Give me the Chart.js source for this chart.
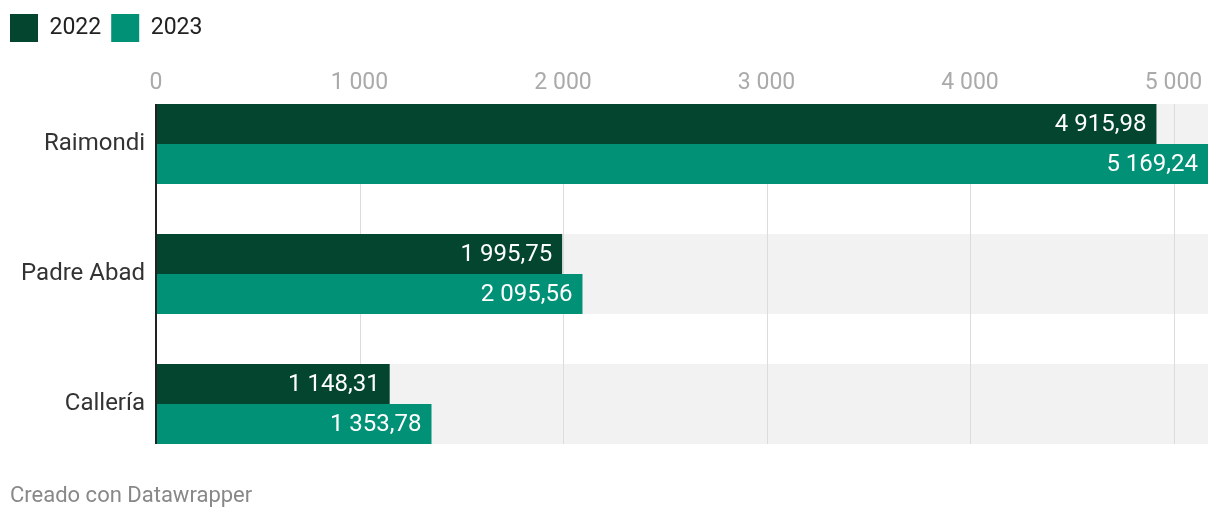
<!DOCTYPE html>
<html>
<head>
<meta charset="utf-8">
<script src="https://cdn.jsdelivr.net/npm/chart.js@4"></script>
<style>
  body { margin: 0; background: #fff; }
  #wrap { position: relative; width: 1220px; height: 522px; }
  #credit {
    position: absolute; left: 10px; top: 482px;
    font-family: Roboto, sans-serif; font-size: 22px; line-height: 26px; color: #888;
  }
</style>
</head>
<body>
<div id="wrap">
  <canvas id="myBarChart" width="1220" height="522"></canvas>
  <div id="credit">Creado con Datawrapper</div>
</div>
<script>
var categories = ['Raimondi', 'Padre Abad', 'Callería'];
var seriesNames = ['2022', '2023'];
var values2022 = [4915.98, 1995.75, 1148.31];
var values2023 = [5169.24, 2095.56, 1353.78];
var tickValues = [0, 1000, 2000, 3000, 4000, 5000];
var axisMax = 5169.24;

var DARK = '#03452f';
var TEAL = '#019176';

// "4915.98" -> "4 915,98"
function fmt(v, decimals) {
    var parts = v.toFixed(decimals).split('.');
    var intPart = parts[0].replace(/\B(?=(\d{3})+(?!\d))/g, ' ');
    return parts.length > 1 ? intPart + ',' + parts[1] : intPart;
}

function bandBounds(chart, i) {
    var top = Infinity, bottom = -Infinity;
    chart.data.datasets.forEach(function (ds, d) {
        var el = chart.getDatasetMeta(d).data[i];
        top = Math.min(top, el.y - el.height / 2);
        bottom = Math.max(bottom, el.y + el.height / 2);
    });
    return { top: top, bottom: bottom };
}

// grey rows behind each group, then the vertical grid, then bars on top
var rowsPlugin = {
    id: 'rows',
    beforeDatasetsDraw: function (chart) {
        var ctx = chart.ctx, area = chart.chartArea, x = chart.scales.x;
        var first = bandBounds(chart, 0);
        var last = bandBounds(chart, categories.length - 1);
        ctx.save();
        ctx.fillStyle = '#f2f2f2';
        for (var i = 0; i < categories.length; i++) {
            var b = bandBounds(chart, i);
            ctx.fillRect(area.left, b.top, area.right - area.left, b.bottom - b.top);
        }
        ctx.strokeStyle = '#dcdcdc';
        ctx.lineWidth = 1;
        x.ticks.forEach(function (t) {
            if (t.value === 0) return;
            var px = Math.round(x.getPixelForValue(t.value)) + 0.5;
            ctx.beginPath();
            ctx.moveTo(px, first.top);
            ctx.lineTo(px, last.bottom);
            ctx.stroke();
        });
        ctx.restore();
    },
    afterDatasetsDraw: function (chart) {
        var ctx = chart.ctx, x = chart.scales.x;
        var first = bandBounds(chart, 0);
        var last = bandBounds(chart, categories.length - 1);
        ctx.save();
        // value labels inside bar ends
        ctx.font = '24px Roboto, sans-serif';
        ctx.fillStyle = '#ffffff';
        ctx.textAlign = 'right';
        ctx.textBaseline = 'middle';
        chart.data.datasets.forEach(function (ds, d) {
            chart.getDatasetMeta(d).data.forEach(function (el, i) {
                ctx.fillText(fmt(ds.data[i], 2), el.x - 10, el.y + 1);
            });
        });
        // baseline at zero
        var x0 = x.getPixelForValue(0);
        ctx.strokeStyle = '#222';
        ctx.lineWidth = 2;
        ctx.beginPath();
        ctx.moveTo(x0, first.top);
        ctx.lineTo(x0, last.bottom);
        ctx.stroke();
        ctx.restore();
    }
};

var config = {
    type: 'bar',
    data: {
        labels: categories,
        datasets: [{
            label: seriesNames[0],
            data: values2022,
            backgroundColor: DARK,
            borderWidth: 0,
            clip: false
        }, {
            label: seriesNames[1],
            data: values2023,
            backgroundColor: TEAL,
            borderWidth: 0,
            clip: false
        }]
    },
    options: {
        indexAxis: 'y',
        responsive: false,
        animation: false,
        categoryPercentage: 80 / 130,
        barPercentage: 1,
        layout: { padding: { top: 4, left: 0, right: 12, bottom: 118 } },
        plugins: {
            legend: {
                position: 'top',
                align: 'start',
                labels: {
                    boxWidth: 28,
                    boxHeight: 28,
                    padding: 10,
                    color: '#222',
                    font: { family: 'Roboto', size: 23 }
                }
            },
            tooltip: { enabled: false }
        },
        scales: {
            x: {
                position: 'top',
                min: 0,
                max: axisMax,
                grid: { display: false, drawTicks: false },
                border: { display: false },
                ticks: {
                    padding: 47,
                    color: '#aaa',
                    font: { family: 'Roboto', size: 23 },
                    callback: function (v) { return fmt(v, 0); }
                },
                afterBuildTicks: function (scale) {
                    scale.ticks = tickValues.map(function (v) { return { value: v }; });
                },
                afterFit: function (scale) {
                    scale.height = 92;
                    scale.paddingLeft = 0;
                    scale.paddingRight = 0;
                }
            },
            y: {
                offset: false,
                grid: { display: false, drawTicks: false },
                border: { display: false },
                ticks: {
                    padding: 11,
                    color: '#333',
                    font: { family: 'Roboto', size: 24 }
                },
                afterFit: function (scale) { scale.width = 156; }
            }
        }
    },
    plugins: [rowsPlugin]
};

var ctx = document.getElementById('myBarChart').getContext('2d');
var myBarChart = new Chart(ctx, config);
</script>
</body>
</html>
